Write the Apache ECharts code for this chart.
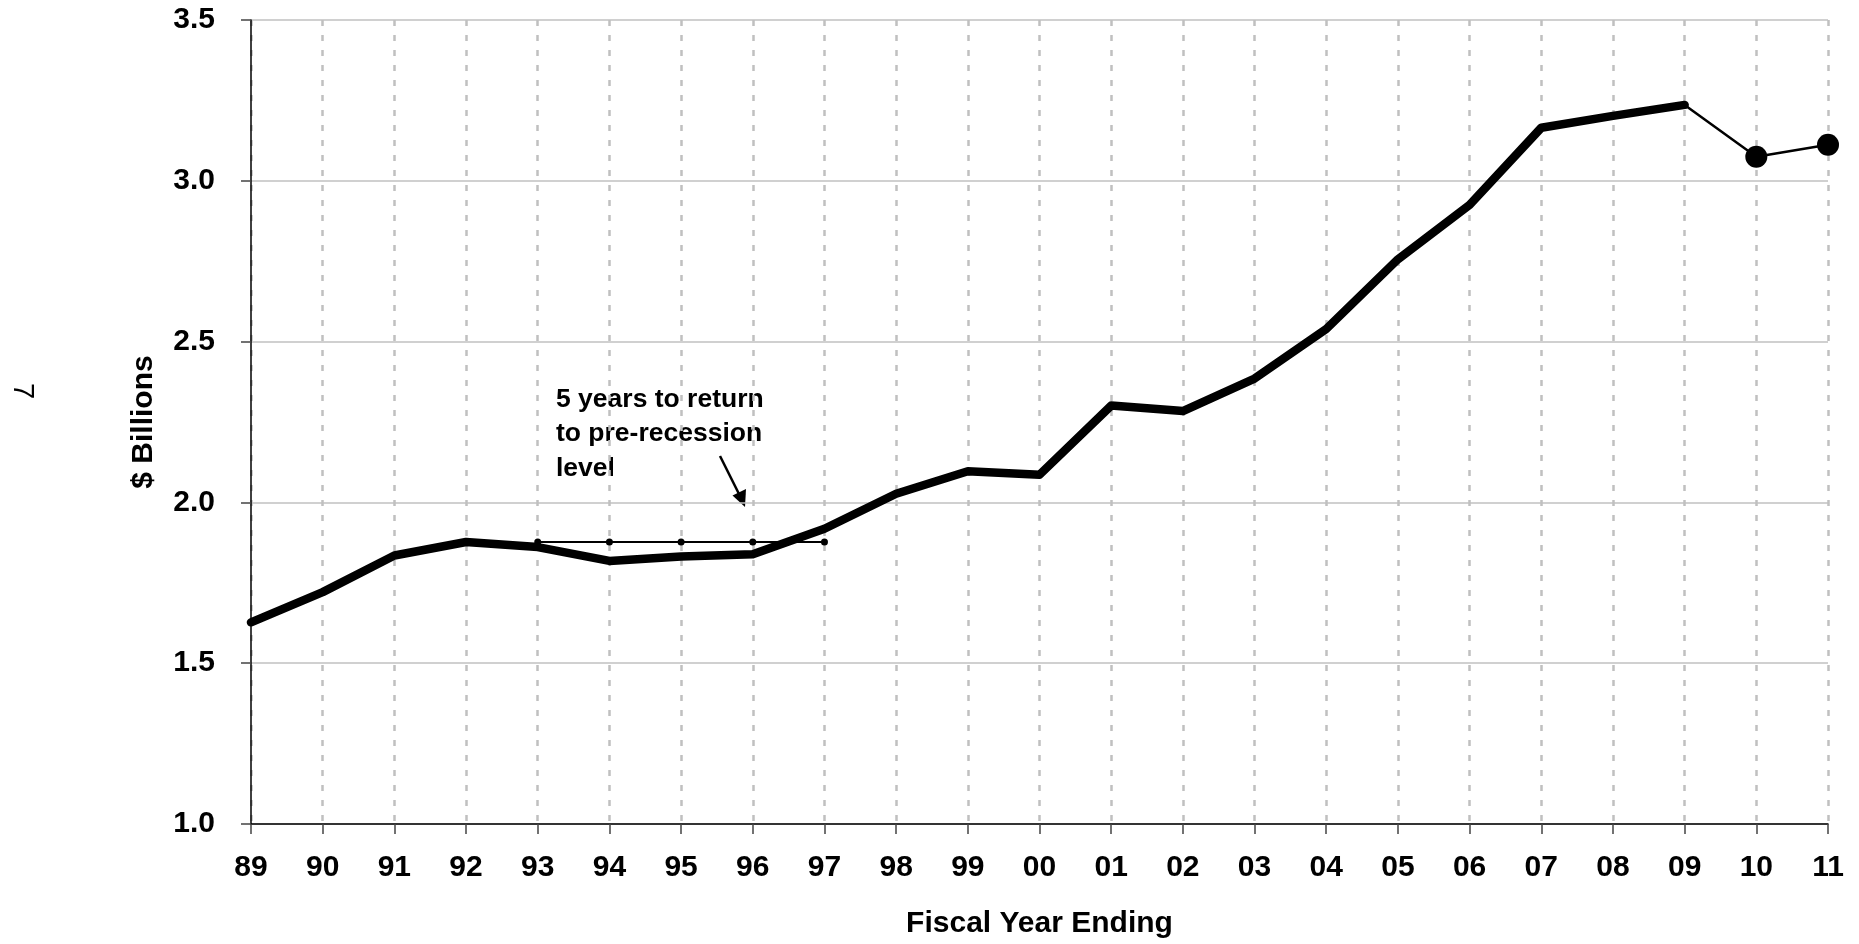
<!DOCTYPE html>
<html>
<head>
<meta charset="utf-8">
<script src="https://cdn.jsdelivr.net/npm/echarts@6/dist/echarts.min.js"></script>
<style>
html,body{margin:0;padding:0;background:#fff;}
#chart{width:1859px;height:944px;}
</style>
</head>
<body>
<div id="chart"></div>
<script>
// ---- data ----
const years = ['89','90','91','92','93','94','95','96','97','98','99','00','01','02','03','04','05','06','07','08','09','10','11'];
const actual = [1.627,1.721,1.835,1.877,1.861,1.818,1.832,1.839,1.918,2.027,2.097,2.086,2.301,2.284,2.385,2.539,2.756,2.925,3.165,3.202,3.236,null,null];
const forecast = [null,null,null,null,null,null,null,null,null,null,null,null,null,null,null,null,null,null,null,null,3.236,3.075,3.112];
const preRecessionLevel = [null,null,null,null,1.877,1.877,1.877,1.877,1.877,null,null,null,null,null,null,null,null,null,null,null,null,null,null];
const yTicks = [1.0,1.5,2.0,2.5,3.0,3.5];
const noteLines = ['5 years to return','to pre-recession','level'];

const FONT = '"Liberation Sans", Arial, Helvetica, sans-serif';
const chart = echarts.init(document.getElementById('chart'), null, {renderer:'canvas'});

const option = {
  animation:false,
  backgroundColor:'#fff',
  grid:{left:251,right:31,top:20,bottom:120,containLabel:false},
  xAxis:{
    type:'category',
    data:years,
    boundaryGap:false,
    name:'Fiscal Year Ending',
    nameLocation:'middle',
    nameGap:85,
    nameTextStyle:{fontFamily:FONT,fontWeight:'bold',fontSize:30,color:'#000'},
    axisLine:{show:true,lineStyle:{color:'#000',width:1.5}},
    axisTick:{show:true,alignWithLabel:true,length:10,lineStyle:{color:'#444',width:1.5}},
    axisLabel:{interval:0,margin:29,fontFamily:FONT,fontWeight:'bold',fontSize:30,color:'#000'},
    splitLine:{show:true,interval:0,lineStyle:{color:'#c0c0c0',width:2.5,type:[6,9]}}
  },
  yAxis:{
    type:'value',
    min:yTicks[0],
    max:yTicks[yTicks.length-1],
    interval:0.5,
    name:'$ Billions',
    nameLocation:'middle',
    nameGap:92,
    nameRotate:90,
    nameTextStyle:{fontFamily:FONT,fontWeight:'bold',fontSize:30,color:'#000'},
    axisLine:{show:true,lineStyle:{color:'#000',width:1.5}},
    axisTick:{show:true,length:10,lineStyle:{color:'#444',width:1.5}},
    axisLabel:{margin:36,fontFamily:FONT,fontWeight:'bold',fontSize:30,color:'#000',
      formatter:v=>v.toFixed(1)},
    splitLine:{show:true,lineStyle:{color:'#c0c0c0',width:1.5,type:'solid'}}
  },
  series:[
    {
      type:'line',
      name:'pre-recession',
      data:preRecessionLevel,
      symbol:'circle',
      symbolSize:7,
      itemStyle:{color:'#000'},
      lineStyle:{color:'#000',width:2},
      z:3
    },
    {
      type:'line',
      name:'actual',
      data:actual,
      showSymbol:false,
      symbol:'none',
      lineStyle:{color:'#000',width:8.5,cap:'round',join:'round'},
      z:4
    },
    {
      type:'line',
      name:'forecast',
      data:forecast.map((v,i)=> (i===20 ? {value:v,symbol:'none'} : v)),
      symbol:'circle',
      symbolSize:22,
      itemStyle:{color:'#000'},
      lineStyle:{color:'#000',width:2.5},
      z:5
    }
  ],
  graphic:[
    {
      type:'text',
      left:556, top:382,
      style:{text:noteLines.join('\n'),fontFamily:FONT,fontWeight:'bold',fontSize:26.5,lineHeight:34.5,fill:'#000'}
    },
    {
      type:'line',
      shape:{x1:720,y1:456,x2:740,y2:496},
      style:{stroke:'#000',lineWidth:2.5}
    },
    {
      type:'polygon',
      shape:{points:[[745,507],[732.5,495.5],[746,489]]},
      style:{fill:'#000'}
    },
    {
      type:'text',
      x:22, y:391,
      rotation:-Math.PI/2,
      style:{text:'7',fontFamily:FONT,fontSize:29,fill:'#000',align:'center',verticalAlign:'middle'}
    }
  ]
};
chart.setOption(option);
</script>
</body>
</html>
